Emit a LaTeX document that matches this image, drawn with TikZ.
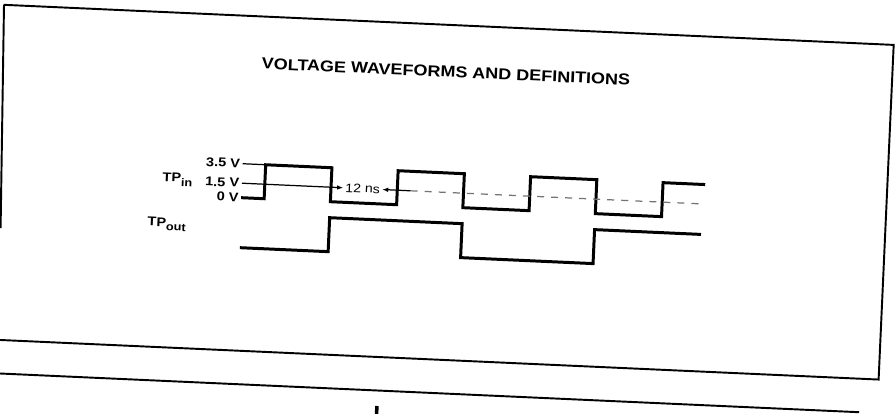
\documentclass[tikz,border=0pt]{standalone}
\usepackage{amsmath}
\usepackage{fontspec}
\setmainfont{Liberation Sans}[FakeStretch=1.15]
\usepackage{tikz}
\usetikzlibrary{arrows.meta}

\newcommand{\lowsub}[1]{\raisebox{-2.2pt}{\fontsize{6.3}{7}\selectfont #1}}

\tikzset{
    frame/.style={line width=1.1pt},
    wave/.style={line width=1.7pt, line join=miter},
    level/.style={line width=0.7pt},
    lbl/.style={inner sep=0pt, outer sep=1.5pt, transform shape, font=\fontsize{7.2}{8}\selectfont\bfseries},
}

\begin{document}
\begin{tikzpicture}[x=0.02cm, y=-0.02cm, >={Latex[length=3.5pt,width=2.6pt]}]
    \useasboundingbox (0,0) rectangle (896,413);
    \clip (0,0) rectangle (896,413);

    % left edge of the sheet
    \draw[frame] (4,5) -- (0.6,228);

    \begin{scope}[rotate around={-2.58:(448,206)}]
    % Frame
    \draw[frame] (-30,360) -- (886,360) -- (886,25) -- (-5,25);
    \draw[frame] (-30,393.5) -- (868,393.5);
    \draw[line width=2pt] (386,409) -- (386,420);

    % Title
    \node[transform shape, inner sep=0pt, font=\fontsize{8.9}{10}\selectfont\bfseries] (title) at (440,72) {VOLTAGE WAVEFORMS AND DEFINITIONS};

    % Level labels
    \node[lbl, anchor=east] (hi) at (241,173) {3.5 V};
    \node[lbl, anchor=east] (mid) at (241,192.5) {1.5 V};
    \node[lbl, anchor=east] (lo) at (241,207) {0 V};
    \node[lbl, anchor=west] (tpin) at (159,192) {TP\lowsub{in}};
    \node[lbl, anchor=west] (tpout) at (146,237) {TP\lowsub{out}};

    % TP_in waveform
    \draw[wave] (lo.east) -- (264,207) \foreach \x in {264,396.6,529.2} {
        -- (\x,173) -- (\x+66.3,173) -- (\x+66.3,207) -- (\x+132.6,207)
    } -- (661.8,173) -- (704,173);

    % 3.5 V marker
    \coordinate (r1) at (264,173);
    \draw[level] (hi) -- (r1);

    % TP_out waveform
    \draw[wave] (242,257) -- (330.3,257) -- (330.3,223) -- (462.9,223) -- (462.9,257)
        -- (595.5,257) -- (595.5,223) -- (702,223);

    % 12 ns
    \node[transform shape, inner sep=1pt, font=\fontsize{7}{8}\selectfont] (ns) at (362,192.5) {12 ns};
    \coordinate (tail) at (410,192.5);
    \coordinate (ref) at (704,192.5);
    \draw[level, ->] (mid) -- (ns);
    \draw[level, ->] (tail) -- (ns);
    \draw[level, dash pattern=on 4pt off 4pt, black!55] (tail) -- (ref);
    \end{scope}
\end{tikzpicture}
\end{document}
